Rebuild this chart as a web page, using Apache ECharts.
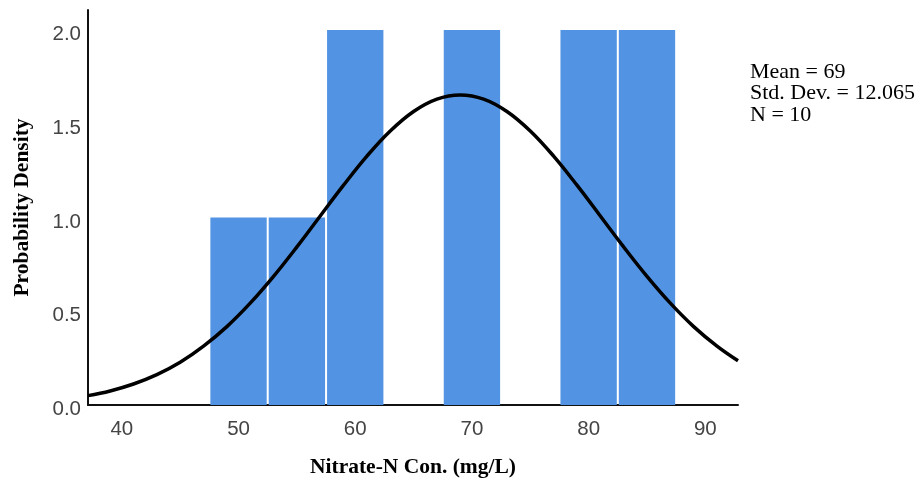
<!DOCTYPE html>
<html>
<head>
<meta charset="utf-8">
<script src="https://cdn.jsdelivr.net/npm/echarts@6/dist/echarts.min.js"></script>
<style>
  html, body { margin: 0; padding: 0; background: #fff; }
  #chart { width: 918px; height: 483px; }
</style>
</head>
<body>
<div id="chart"></div>
<script>
// histogram bins: [start, end, density]
const binStart = [47.5, 52.5, 57.5, 67.5, 77.5, 82.5]
const binEnd = [52.5, 57.5, 62.5, 72.5, 82.5, 87.5]
const binHeight = [1, 1, 2, 2, 2, 2]

// normal curve
const curveX = [37.1, 39, 41, 43, 45, 47, 49, 51, 53, 55, 57, 59, 61, 63, 65, 67, 69, 71, 73, 75, 77, 79, 81, 83, 85, 87, 89, 91, 92.8]
const curveY = [0.05, 0.075, 0.112, 0.162, 0.228, 0.314, 0.418, 0.543, 0.686, 0.843, 1.008, 1.172, 1.327, 1.461, 1.565, 1.631, 1.653, 1.631, 1.565, 1.461, 1.327, 1.172, 1.008, 0.843, 0.686, 0.543, 0.418, 0.314, 0.236]

const xTicks = [40, 50, 60, 70, 80, 90]
const yTicks = [0, 0.5, 1, 1.5, 2]

const statsText = ['Mean = 69', 'Std. Dev. = 12.065', 'N = 10']

const chart = echarts.init(document.getElementById('chart'))

const histData = binStart.map((s, i) => [s, binEnd[i], binHeight[i]])
const curveData = curveX.map((x, i) => [x, curveY[i]])

const option = {
  animation: false,
  title: {
    text: statsText.join('\n'),
    left: 745,
    top: 56,
    textStyle: {
      fontFamily: 'Liberation Serif',
      fontWeight: 'normal',
      fontSize: 22,
      lineHeight: 21.5,
      color: '#000'
    }
  },
  grid: { left: 88, right: 180, top: 10, bottom: 76 },
  xAxis: {
    type: 'value',
    min: 37.1,
    max: 92.8,
    name: 'Nitrate-N Con. (mg/L)',
    nameLocation: 'middle',
    nameGap: 51,
    nameTextStyle: { fontFamily: 'Liberation Serif', fontWeight: 'bold', fontSize: 21.5, color: '#000' },
    splitLine: { show: false },
    axisTick: { show: false },
    axisLine: { lineStyle: { color: '#111', width: 2 } },
    axisLabel: {
      customValues: xTicks,
      margin: 14,
      fontFamily: 'Liberation Sans',
      fontSize: 20.5,
      color: '#444'
    }
  },
  yAxis: {
    type: 'value',
    min: 0,
    max: 2.106,
    name: 'Probability Density',
    nameLocation: 'middle',
    nameGap: 55,
    nameTextStyle: { fontFamily: 'Liberation Serif', fontWeight: 'bold', fontSize: 21.5, color: '#000' },
    splitLine: { show: false },
    axisTick: { show: false },
    axisLine: { show: true, lineStyle: { color: '#111', width: 2 } },
    axisLabel: {
      customValues: yTicks,
      margin: 7,
      verticalAlign: 'top',
      lineHeight: 9,
      fontFamily: 'Liberation Sans',
      fontSize: 20.5,
      color: '#444',
      formatter: v => v.toFixed(1)
    }
  },
  series: [
    {
      type: 'custom',
      data: histData,
      encode: { x: [0, 1], y: 2 },
      renderItem: function (params, api) {
        const p0 = api.coord([api.value(0), 0])
        const p1 = api.coord([api.value(1), api.value(2)])
        return {
          type: 'rect',
          shape: { x: p0[0] + 1, y: p1[1], width: p1[0] - p0[0] - 2, height: p0[1] - p1[1] },
          style: { fill: '#5294e3' }
        }
      },
      z: 1
    },
    {
      type: 'line',
      data: curveData,
      smooth: 0.4,
      showSymbol: false,
      lineStyle: { color: '#000', width: 3.5 },
      z: 3
    }
  ]
}

chart.setOption(option)
</script>
</body>
</html>
